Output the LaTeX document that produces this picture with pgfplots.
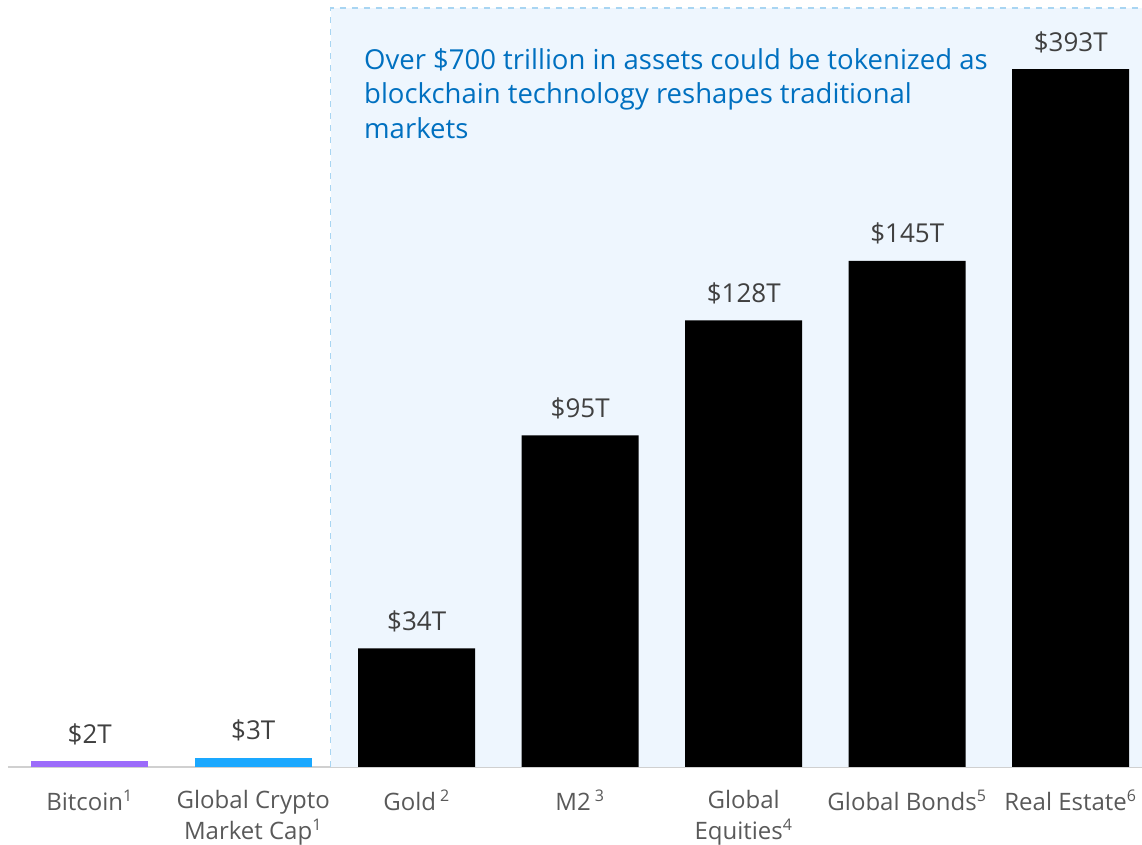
\documentclass[border=0pt]{standalone}
\usepackage{fontspec}
\setmainfont{Open Sans}
\usepackage{pgfplots}
\pgfplotsset{compat=1.18}
\definecolor{btc}{HTML}{9B6BFA}
\definecolor{crypto}{HTML}{1AA8FF}
\definecolor{lblgray}{HTML}{404040}
\definecolor{catgray}{HTML}{595959}
\definecolor{titleblue}{HTML}{0070C0}
\definecolor{boxfill}{HTML}{EEF6FE}
\definecolor{boxline}{HTML}{A8D5F2}
\definecolor{axisgray}{HTML}{D0D0D0}
\begin{document}
\begin{tikzpicture}
\useasboundingbox (0,0) rectangle (571pt,422.5pt);
\begin{axis}[
  at={(4pt,39pt)}, anchor=south west,
  scale only axis, width=567pt, height=379.5pt,
  xmin=-0.5, xmax=6.436, ymin=0, ymax=217.5,
  clip=false,
  axis x line=bottom, axis y line=none,
  axis line style={axisgray, line width=1pt, -},
  xtick={0,...,6}, major tick length=0pt,
  xticklabels={
    Bitcoin\textsuperscript{1},
    {Global Crypto\\Market Cap\textsuperscript{1}},
    Gold\,\textsuperscript{2},
    M2\,\textsuperscript{3},
    {Global\\Equities\textsuperscript{4}},
    Global Bonds\textsuperscript{5},
    Real Estate\textsuperscript{6}},
  xticklabel style={font=\fontsize{12}{15.5}\selectfont, text=catgray, align=center, anchor=north, yshift=-8pt},
  ybar, bar width=58.5pt,
  nodes near coords,
  point meta=explicit symbolic,
  nodes near coords style={font=\fontsize{13}{15}\selectfont, text=lblgray, anchor=base, yshift=9pt},
]
\fill[boxfill] (axis cs:1.474,0) rectangle (axis cs:6.6,217.5);
\draw[boxline, dashed, line width=0.6pt] (axis cs:1.474,0) -- (axis cs:1.474,217.5) -- (axis cs:6.6,217.5);
\addplot[fill=btc, draw=none, bar shift=0pt] coordinates {(0,1.6) [\$2T]};
\addplot[fill=crypto, draw=none, bar shift=0pt] coordinates {(1,2.7) [\$3T]};
\addplot[fill=black, draw=none, bar shift=0pt] coordinates {
  (2,34) [\$34T]
  (3,95) [\$95T]
  (4,128) [\$128T]
  (5,145) [\$145T]
  (6,200) [\$393T]
};
\node[anchor=base west, align=left, text=titleblue, font=\fontsize{13.75}{17.25}\selectfont, inner sep=0pt]
  at (axis cs:1.676,180.2) {Over \$700 trillion in assets could be tokenized as\\blockchain technology reshapes traditional\\markets};
\end{axis}
\end{tikzpicture}
\end{document}
